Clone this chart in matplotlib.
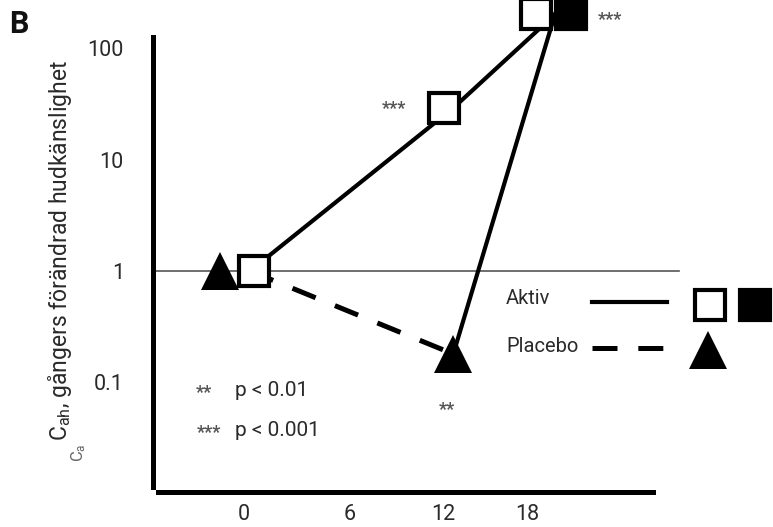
import matplotlib
matplotlib.use("Agg")
import matplotlib.pyplot as plt
from matplotlib.transforms import offset_copy
from matplotlib.lines import Line2D

plt.rcParams['font.family'] = ['Roboto', 'DejaVu Sans']
plt.rcParams['lines.scale_dashes'] = False

# ---- data ----
weeks = [0, 12, 18]
aktiv = [1, 29, 200]
placebo_weeks = [0, 12]
placebo = [1, 0.18]
switch_weeks = [12, 18]
switch_vals = [0.18, 200]
ytick_vals = [0.1, 1, 10, 100]
ytick_labels = ["0.1", "1", "10", "100"]
xtick_labels = ["0", "6", "12", "18"]
xtick_pos = [-0.35, 5.9, 11.4, 16.35]

W, H = 773, 527
fig = plt.figure(figsize=(W / 100, H / 100), dpi=100)
TXT = '#2a2a2a'

def fx(x):
    return x / W

def fy(y):
    return 1 - y / H

ax = fig.add_axes([fx(153), fy(492), 500 / W, 455 / H])
ax.set_yscale('log')
ax.set_xlim(-5.73, 23.79)
ax.set_ylim(0.0104, 125.6)

for s in ['top', 'right']:
    ax.spines[s].set_visible(False)
ax.spines['left'].set_linewidth(3.6)
ax.spines['bottom'].set_linewidth(3.6)
ax.spines['left'].set_bounds(0.01156, 125.6)
ax.spines['bottom'].set_bounds(-5.43, 23.79)

ax.set_yticks(ytick_vals)
ax.set_yticklabels(ytick_labels)
ax.yaxis.set_minor_locator(matplotlib.ticker.NullLocator())
ax.set_xticks(xtick_pos)
ax.set_xticklabels(xtick_labels)
ax.tick_params(axis='y', length=0, pad=21, labelsize=15.5, labelcolor=TXT)
ax.tick_params(axis='x', length=0, pad=9, labelsize=15.5, labelcolor=TXT)

# reference line at 1
ax.plot([-5.73, 25.3], [1, 1], color='#555555', lw=1.2, clip_on=False, zorder=1)

# lines
ax.plot(weeks, aktiv, color='black', lw=3, clip_on=False, zorder=2)
ax.plot(placebo_weeks, placebo, color='black', lw=3.6, dashes=(18, 15),
        clip_on=False, zorder=2)
ax.plot(switch_weeks, switch_vals, color='black', lw=3, clip_on=False, zorder=2)

def off(dx, dy=0):
    return offset_copy(ax.transData, fig=fig, x=dx, y=dy, units='dots')

sq = dict(marker='s', ms=22, mew=3, mec='black', clip_on=False, zorder=4)
# Aktiv open squares
ax.plot([weeks[0]], [aktiv[0]], mfc='white', transform=off(4), **sq)
ax.plot([weeks[1]], [aktiv[1]], mfc='white', transform=off(-9), **sq)
ax.plot([weeks[2]], [aktiv[2]], mfc='white', transform=off(-19), **sq)
ax.plot([weeks[2]], [aktiv[2]], mfc='black', transform=off(16), **sq)
# Placebo triangles
tri = dict(marker='^', ms=28, color='black', mew=0, clip_on=False, zorder=4)
ax.plot([placebo_weeks[0]], [placebo[0]], transform=off(-30), **tri)
ax.plot([placebo_weeks[1]], [placebo[1]], transform=off(0), **tri)

# significance stars
star = dict(fontsize=13, color='#555555', ha='center', va='center', clip_on=False,
            fontweight='bold')
ax.text(weeks[1], aktiv[1], "***", transform=off(-59, -1), **star)
ax.text(weeks[2], aktiv[2], "***", transform=off(55, -6), **star)
ax.text(placebo_weeks[1], placebo[1], "**", transform=off(-6, -56), **star)

# star legend
fig.text(fx(204), fy(393), "**", **star)
fig.text(fx(209), fy(433), "***", **star)
fig.text(fx(235), fy(391), "p < 0.01", fontsize=15, color=TXT, va='center')
fig.text(fx(235), fy(431), "p < 0.001", fontsize=15, color=TXT, va='center')

# legend
fig.text(fx(506), fy(299), "Aktiv", fontsize=14.5, color=TXT, va='center')
fig.text(fx(506), fy(347), "Placebo", fontsize=14.5, color=TXT, va='center')
fig.add_artist(Line2D([fx(592), fx(667)], [fy(302), fy(302)], color='black', lw=3,
                      transform=fig.transFigure))
fig.add_artist(Line2D([fx(592), fx(664)], [fy(348), fy(348)], color='black', lw=3.6,
                      dashes=(18, 15), transform=fig.transFigure))
fig.add_artist(Line2D([fx(710)], [fy(305)], marker='s', ms=22, mew=3, mec='black',
                      mfc='white', transform=fig.transFigure))
fig.add_artist(Line2D([fx(755)], [fy(305)], marker='s', ms=22, mew=3, mec='black',
                      mfc='black', transform=fig.transFigure))
fig.add_artist(Line2D([fx(708)], [fy(350)], marker='^', ms=28, mew=0, color='black',
                      transform=fig.transFigure))

# y label
fig.text(fx(60), fy(250), r"$\mathregular{C_{ah}}$, gångers förändrad hudkänslighet",
         rotation=90, fontsize=16.5, color=TXT, ha='center', va='center')
fig.text(fx(79), fy(453), r"$\mathregular{C_{a}}$", rotation=90, fontsize=12,
         color='#666666', ha='center', va='center')

# panel letter
fig.text(fx(9), fy(24), "B", fontsize=22, fontweight='bold', color='#111111',
         ha='left', va='center')

fig.savefig("out.png", dpi=100)
